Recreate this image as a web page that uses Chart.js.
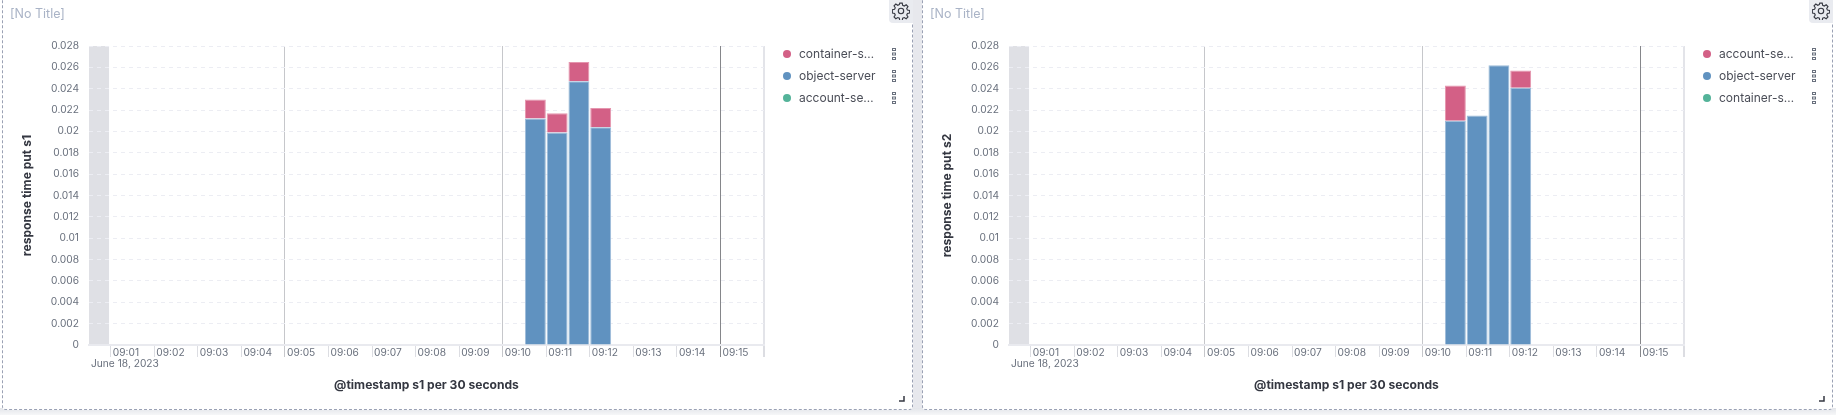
<!DOCTYPE html>
<html>
<head>
<meta charset="utf-8">
<title>response time put</title>
<script src="https://cdn.jsdelivr.net/npm/chart.js@4"></script>
<style>
html, body { margin:0; padding:0; width:1842px; height:415px; overflow:hidden; background:#fff; font-family:Inter, sans-serif; }
.gap { position:absolute; left:912px; top:0; width:11px; height:415px; background:#e7e8ed; }
.under { position:absolute; left:0; top:408px; width:1836px; height:7px; background:linear-gradient(#e3e5ea, #f6f7f8); }
.slot { position:absolute; top:0; width:920px; height:415px; }
.box { position:absolute; left:2px; top:-10px; width:909px; height:418px; border:1px dashed #9aa1b4; border-radius:4px; background:#fff; }
canvas { position:absolute; left:0; top:0; }
.title { position:absolute; left:10px; top:5px; font-size:12.5px; line-height:17px; color:#a9b3c6; }
.date { position:absolute; left:91px; top:356px; font-size:10.2px; line-height:14px; color:#69707d; }
.gear { position:absolute; left:889px; top:0; width:24px; height:23px; background:#e9ebf0; border-bottom-left-radius:4px; }
.gear svg { position:absolute; left:3px; top:2px; }
.legend-row { position:absolute; left:783px; width:130px; height:22px; font-size:12px; line-height:22px; color:#4a4d57; white-space:nowrap; }
.legend-row i { position:absolute; left:0; top:7px; width:8px; height:8px; border-radius:50%; }
.legend-row span { position:absolute; left:16px; }
.legend-row svg { position:absolute; left:109px; top:4px; }
.handle { position:absolute; }
</style>
</head>
<body>
<div class="gap"></div>
<div class="under"></div>
<div class="slot" id="slot1"></div>
<div class="slot" id="slot2" style="left:920px"></div>
<script>
// minutes past 09:00 for the start of each 30 second bucket
const bucketStarts = [10.5, 11, 11.5, 12];
const minuteTicks = [1, 2, 3, 4, 5, 6, 7, 8, 9, 10, 11, 12, 13, 14, 15, 16];
const minuteLabels = ["09:01", "09:02", "09:03", "09:04", "09:05", "09:06", "09:07", "09:08",
                      "09:09", "09:10", "09:11", "09:12", "09:13", "09:14", "09:15", ""];
const yTicks = ["0", "0.002", "0.004", "0.006", "0.008", "0.01", "0.012", "0.014",
                "0.016", "0.018", "0.02", "0.022", "0.024", "0.026", "0.028"];
const axisStart = 0.5;
const axisEnd = 16;
const emptyBandEnd = 0.96;   // grey area before the first full bucket

// panel 1
const s1Object = [0.0212, 0.0199, 0.0247, 0.0204];
const s1Container = [0.0018, 0.0018, 0.0018, 0.0018];
const s1Account = [null, null, null, null];
const s1Legend = ["container-s…", "object-server", "account-se…"];

// panel 2
const s2Object = [0.0210, 0.0215, 0.0262, 0.0241];
const s2Account = [0.0033, null, null, 0.0016];
const s2Container = [null, null, null, null];
const s2Legend = ["account-se…", "object-server", "container-s…"];

const PINK = "#d36086", BLUE = "#6092c0", GREEN = "#54b399";
const TICK_COLOR = "#69707d";

const bandPlugin =
{
    id: "emptyBand",
    beforeDraw(chart)
    {
        let x = chart.scales.x, y = chart.scales.y, ctx = chart.ctx;
        let left = x.getPixelForValue(axisStart);
        ctx.save();
        ctx.fillStyle = "#dfe0e5";
        ctx.fillRect(left, y.top, x.getPixelForValue(emptyBandEnd) - left, y.bottom - y.top);
        ctx.restore();
    }
};

function series(label, values, color, border)
{
    return {
        label: label,
        data: bucketStarts.map((m, i) => ({ x: m + 0.25, y: values[i] })),
        backgroundColor: color,
        borderColor: border,
        borderWidth: 1,
        borderSkipped: "bottom",
        categoryPercentage: 1,
        barPercentage: 0.96
    };
}

function gridColor(c)
{
    let v = c.tick ? c.tick.value : 0;
    if(v == 5 || v == 10) return "#c6c7cb";
    if(v == 15) return "#85868a";
    if(v == 16) return "#e3e4e9";
    return "rgba(0,0,0,0)";
}

function tickColor(c)
{
    return c.tick && c.tick.value % 5 == 0 ? gridColor(c) : "#dcdde2";
}

function drawPanel(slotId, yTitle, legend, datasets)
{
    let slot = document.getElementById(slotId);
    slot.innerHTML =
        '<div class="box"></div><canvas width="920" height="415"></canvas>' +
        '<div class="title">[No Title]</div><div class="date">June 18, 2023</div>' +
        '<div class="gear"><svg width="18" height="18" viewBox="0 0 16 16" fill="none" stroke="#343741" stroke-width="1">' +
        '<circle cx="8" cy="8" r="2.4"/><path d="M6.9 1h2.2l.4 2 1.4.6 1.7-1.1 1.6 1.6-1.1 1.7.6 1.4 2 .4v2.2l-2 .4-.6 1.4 1.1 1.7-1.6 1.6-1.7-1.1-1.4.6-.4 2H6.9l-.4-2-1.4-.6-1.7 1.1-1.6-1.6 1.1-1.7-.6-1.4-2-.4V6.9l2-.4.6-1.4-1.1-1.7 1.6-1.6 1.7 1.1 1.4-.6z"/></svg></div>' +
        '<svg class="handle" style="top:395px;left:898px" width="8" height="8"><path d="M1 6h5V1" fill="none" stroke="#343741" stroke-width="1.5"/></svg>';

    let colors = [PINK, BLUE, GREEN];
    legend.forEach((name, i) =>
    {
        let row = document.createElement("div");
        row.className = "legend-row";
        row.style.top = (43 + i * 22) + "px";
        row.innerHTML = '<i style="background:' + colors[i] + '"></i><span>' + name + '</span>' +
            '<svg width="5" height="14" fill="none" stroke="#69707d" stroke-width="1">' +
            '<rect x="0.5" y="1.5" width="3" height="2"/><rect x="0.5" y="6" width="3" height="2"/><rect x="0.5" y="10.5" width="3" height="2"/></svg>';
        slot.appendChild(row);
    });

    new Chart(slot.querySelector("canvas").getContext("2d"),
    {
        type: "bar",
        data: { datasets: datasets },
        plugins: [bandPlugin],
        options:
        {
            responsive: false,
            animation: false,
            layout: { padding: { top: 46, right: 156, left: 0, bottom: 0 } },
            plugins: { legend: { display: false }, tooltip: { enabled: false } },
            scales:
            {
                x:
                {
                    type: "linear",
                    stacked: true,
                    offset: false,
                    min: axisStart,
                    max: axisEnd,
                    afterFit: s => { s.height = 70; },
                    afterBuildTicks: s => { s.ticks = minuteTicks.map(v => ({ value: v })); },
                    border: { display: true, color: "#e9eaef", width: 2 },
                    grid:
                    {
                        offset: false,
                        color: gridColor,
                        tickColor: tickColor,
                        lineWidth: c => c.tick && c.tick.value == 16 ? 2 : 1,
                        tickLength: 12
                    },
                    ticks:
                    {
                        autoSkip: false,
                        maxRotation: 0,
                        align: "start",
                        labelOffset: 2,
                        padding: -10,
                        color: TICK_COLOR,
                        font: { family: "Inter", size: 10.2 },
                        callback: v => minuteLabels[minuteTicks.indexOf(v)]
                    },
                    title:
                    {
                        display: true,
                        text: "@timestamp s1 per 30 seconds",
                        color: "#343741",
                        font: { family: "Inter", size: 12.1, weight: "bold" },
                        padding: { top: 0, bottom: 22 }
                    }
                },
                y:
                {
                    stacked: true,
                    min: 0,
                    max: 0.028,
                    afterFit: s => { s.width = 89; },
                    border: { display: false, dash: [4, 4] },
                    grid: { color: "#ecedf3", drawTicks: false },
                    ticks:
                    {
                        stepSize: 0.002,
                        padding: 10,
                        color: TICK_COLOR,
                        font: { family: "Inter", size: 10.2 },
                        callback: (v, i) => yTicks[i]
                    },
                    title:
                    {
                        display: true,
                        text: yTitle,
                        color: "#343741",
                        font: { family: "Inter", size: 12.1, weight: "bold" },
                        padding: { top: 20, bottom: 0 }
                    }
                }
            }
        }
    });
}

document.addEventListener("DOMContentLoaded", e =>
{
    drawPanel("slot1", "response time put s1", s1Legend,
    [
        series("account-server", s1Account, GREEN, GREEN),
        series("object-server", s1Object, BLUE, "#9dbcd9"),
        series("container-server", s1Container, PINK, "#e595ae")
    ]);
    drawPanel("slot2", "response time put s2", s2Legend,
    [
        series("container-server", s2Container, GREEN, GREEN),
        series("object-server", s2Object, BLUE, "#9dbcd9"),
        series("account-server", s2Account, PINK, "#e595ae")
    ]);
});
</script>
</body>
</html>
